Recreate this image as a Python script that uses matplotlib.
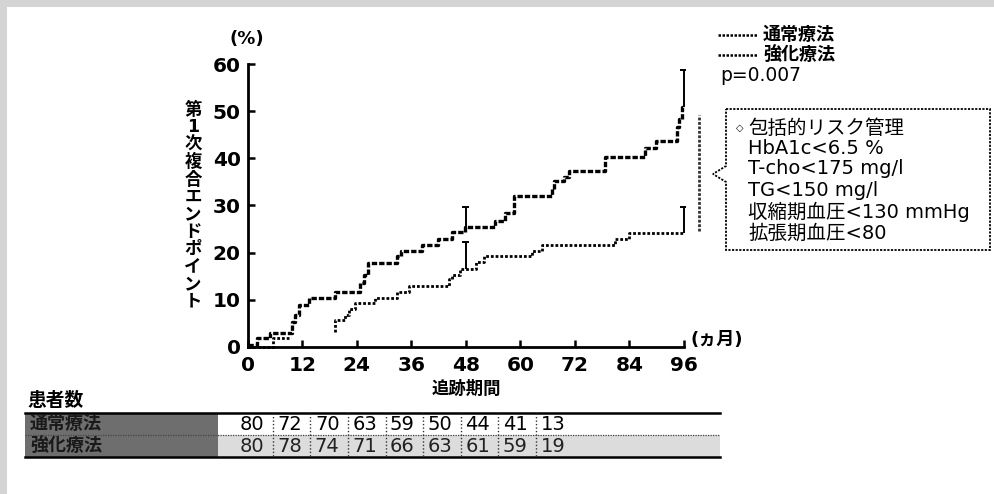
import numpy as np
import matplotlib
matplotlib.use("Agg")
import matplotlib.pyplot as plt
from matplotlib.patches import Rectangle, Polygon
from matplotlib.lines import Line2D

plt.rcParams['font.family'] = ['DejaVu Sans', 'Noto Sans CJK JP']

# ---------------- data ----------------
conv_t = [0, 2.0, 4.8, 9.7, 10.4, 11.2, 13.4, 19.2, 24.6, 25.5, 26.4, 32.9, 33.7, 38.3,
          41.9, 44.9, 47.8, 54.4, 56.6, 58.5, 66.9, 67.4, 69.5, 70.6, 78.6, 87.5, 89.9,
          94.4, 95.0, 95.5, 96.0]
conv_v = [0.4, 1.8, 3.0, 5.2, 6.7, 8.9, 10.4, 11.7, 13.5, 15.2, 17.7, 19.2, 20.4, 21.7,
          22.9, 24.3, 25.5, 26.7, 28.5, 32.0, 33.6, 35.1, 36.1, 37.4, 40.4, 42.3, 43.8,
          46.6, 48.3, 51.0, 51.0]

int_t = [0, 5.6, 9.5, 9.5, 19.1, 19.1, 21.4, 22.2, 23.6, 28.0, 32.8, 35.4, 44.3, 44.9,
         46.8, 50.2, 52.0, 62.5, 64.7, 80.9, 83.8, 96.0]
int_v = [0.0, 1.8, 1.8, np.nan, 3.2, 5.7, 6.7, 8.1, 9.2, 10.3, 11.7, 12.9, 14.3, 15.2,
         16.5, 17.9, 19.2, 20.4, 21.6, 22.8, 24.2, 24.2]

ci_t = [48, 96]
conv_ci_lo = [24.3, 51.0]
conv_ci_hi = [29.6, 58.8]
int_ci_lo = [16.5, 24.2]
int_ci_hi = [22.3, 29.7]

diff_x = 99.2
diff_lo, diff_hi = 24.5, 49.2

xticks = [0, 12, 24, 36, 48, 60, 72, 84, 96]
yticks = [0, 10, 20, 30, 40, 50, 60]

legend_labels = ['通常療法', '強化療法']
p_text = 'p=0.007'
box_lines = ['包括的リスク管理', 'HbA1c<6.5 %', 'T-cho<175 mg/l', 'TG<150 mg/l',
             '収縮期血圧<130 mmHg', '拡張期血圧<80']

ylabel_text = '第1次複合エンドポイント'
xlabel_text = '追跡期間'
table_title = '患者数'
row_labels = ['通常療法', '強化療法']
n_conv = [80, 72, 70, 63, 59, 50, 44, 41, 13]
n_int = [80, 78, 74, 71, 66, 63, 61, 59, 19]

# ---------------- figure ----------------
W, H = 995, 494
fig = plt.figure(figsize=(W / 100, H / 100), dpi=100)
fig.patch.set_facecolor('white')

def fx(x):
    return x / W

def fy(y):
    return 1 - y / H

# scanned frame (top & left)
plt.rcParams['hatch.color'] = '#8a8a8a'
fig.patches.append(Rectangle((0, fy(7)), 1, 7 / H, transform=fig.transFigure,
                             facecolor='#d4d4d4', edgecolor='none', hatch='....', zorder=0))
fig.patches.append(Rectangle((0, 0), 7 / W, 1, transform=fig.transFigure,
                             facecolor='#d4d4d4', edgecolor='none', hatch='....', zorder=0))

x0, x1 = 247.7, 684.0
y0, y1 = 346.7, 64.3
ax = fig.add_axes([fx(x0), fy(y0), (x1 - x0) / W, (y0 - y1) / H])
ax.set_xlim(0, 96)
ax.set_ylim(0, 60)
for s in ['top', 'right']:
    ax.spines[s].set_visible(False)
for s in ['left', 'bottom']:
    ax.spines[s].set_linewidth(2.0)
ax.set_xticks(xticks)
ax.set_yticks(yticks)
ax.tick_params(direction='in', length=5, width=1.8, labelsize=14.5)
ax.tick_params(axis='x', pad=7)
ax.tick_params(axis='y', pad=5)
for lab in ax.get_xticklabels() + ax.get_yticklabels():
    lab.set_fontweight('bold')

conv_style = dict(color='black', lw=2.4, linestyle=(0, (1.6, 0.6)))
int_style = dict(color='black', lw=2.0, linestyle=(0, (1.0, 0.7)))

ax.step(conv_t, conv_v, where='post', clip_on=False, **conv_style)
ax.step(int_t, int_v, where='post', clip_on=False, **int_style)

# confidence bars
for lo, hi in [(conv_ci_lo, conv_ci_hi), (int_ci_lo, int_ci_hi)]:
    ax.vlines(ci_t, lo, hi, color='black', lw=1.4, clip_on=False)
    ax.hlines(hi, [t - 0.8 for t in ci_t], [t + 0.4 if t == 96 else t + 0.8 for t in ci_t],
              color='black', lw=1.4, clip_on=False)

# difference bracket
ax.plot([diff_x, diff_x], [diff_lo, diff_hi], color='#333333', lw=2.0,
        linestyle=(0, (1, 0.6)), clip_on=False)

# axis texts
fig.text(fx(247), fy(39), '(%)', ha='center', va='center', fontsize=13, fontweight='bold')
fig.text(fx(717), fy(340), '(ヵ月)', ha='center', va='center', fontsize=13, fontweight='bold')
fig.text(fx(466), fy(389), xlabel_text, ha='center', va='center', fontsize=12.5,
         fontweight='bold')
for i, ch in enumerate(ylabel_text):
    fig.text(fx(193), fy(110 + i * 17.4), ch, ha='center', va='center', fontsize=12.5,
             fontweight='bold')

# legend
leg_y = [35, 55]
for yy, lab in zip(leg_y, legend_labels):
    fig.lines.append(Line2D([fx(718), fx(757)], [fy(yy), fy(yy)], transform=fig.transFigure,
                            color='black', lw=1.8, linestyle=(0, (1, 0.6))))
    fig.text(fx(763), fy(yy), lab, ha='left', va='center', fontsize=13, fontweight='bold')
fig.text(fx(720), fy(75), p_text, ha='left', va='center', fontsize=13.5)

# callout box
bx0, bx1, by0, by1 = 726, 990, 109, 250
poly = [(bx0, by0), (bx1, by0), (bx1, by1), (bx0, by1), (bx0, 182), (713, 174), (bx0, 166)]
fig.patches.append(Polygon([(fx(a), fy(b)) for a, b in poly], closed=True,
                           transform=fig.transFigure, facecolor='white', edgecolor='black',
                           lw=1.3, linestyle=(0, (1.2, 0.8))))
line_y = [128, 149, 169, 190, 212, 233]
fig.text(fx(740), fy(line_y[0]), '◇', ha='center', va='center', fontsize=7)
for yy, s in zip(line_y, box_lines):
    fig.text(fx(748), fy(yy), s, ha='left', va='center', fontsize=14)

# patient table
fig.text(fx(27), fy(400), table_title, ha='left', va='center', fontsize=13.5, fontweight='bold')
tx0, tlab, tx1 = 25, 218, 720
ty = [413, 435, 457]
fig.patches.append(Rectangle((fx(tx0), fy(ty[2])), (tlab - tx0) / W, (ty[2] - ty[0]) / H,
                             transform=fig.transFigure, facecolor='#6e6e6e',
                             edgecolor='none', zorder=1))
fig.patches.append(Rectangle((fx(tlab), fy(ty[2])), (tx1 - tlab) / W, (ty[2] - ty[1]) / H,
                             transform=fig.transFigure, facecolor='#dcdcdc',
                             edgecolor='none', zorder=1))
for yy in [ty[0], ty[2]]:
    fig.lines.append(Line2D([fx(tx0), fx(tx1)], [fy(yy), fy(yy)], transform=fig.transFigure,
                            color='black', lw=1.8))
fig.lines.append(Line2D([fx(tx0), fx(tx1)], [fy(ty[1]), fy(ty[1])], transform=fig.transFigure,
                        color='#444444', lw=0.9, linestyle=(0, (1, 1))))
col_c = [252 + 37.6 * i for i in range(len(n_conv))]
for i in range(len(n_conv) - 1):
    xs = (col_c[i] + col_c[i + 1]) / 2 + 2
    fig.lines.append(Line2D([fx(xs), fx(xs)], [fy(ty[0]), fy(ty[2])], transform=fig.transFigure,
                            color='#333333', lw=1.0, linestyle=(0, (1, 1.5))))
for yy, lab in zip([(ty[0] + ty[1]) / 2, (ty[1] + ty[2]) / 2], row_labels):
    fig.text(fx(30), fy(yy), lab, ha='left', va='center', fontsize=13, color='#1a1a1a',
             fontweight='bold', zorder=3)
for c, a, b in zip(col_c, n_conv, n_int):
    fig.text(fx(c), fy((ty[0] + ty[1]) / 2), str(a), ha='center', va='center', fontsize=14)
    fig.text(fx(c), fy((ty[1] + ty[2]) / 2), str(b), ha='center', va='center', fontsize=14,
             color='#222222')

fig.savefig('out.png', dpi=100)
